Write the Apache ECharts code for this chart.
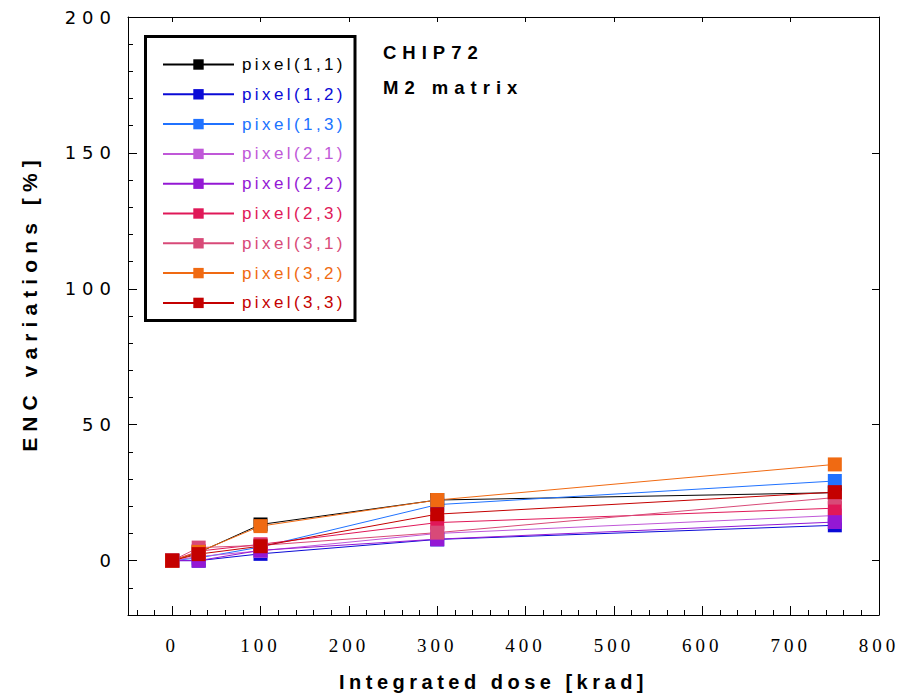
<!DOCTYPE html>
<html>
<head>
<meta charset="utf-8">
<script src="https://cdn.jsdelivr.net/npm/echarts@6/dist/echarts.min.js"></script>
<style>
  html, body { margin: 0; padding: 0; background: #fff; }
  #chart { width: 910px; height: 697px; }
  text[style*="LGX"] { letter-spacing: 3.4px; }
  text[style*="YLB"] { letter-spacing: 6px; }
  text[style*="XLB"] { letter-spacing: 4px; }
  text[style*="YNM"] { letter-spacing: 6.1px; }
  text[style*="XNM"] { letter-spacing: 4.5px; }
  text[style*="ANN"] { letter-spacing: 6px; }
</style>
</head>
<body>
<div id="chart"></div>
<script>
// ---- data ----
const doses = [0, 30, 100, 300, 750];
const seriesNames = ['pixel(1,1)', 'pixel(1,2)', 'pixel(1,3)', 'pixel(2,1)', 'pixel(2,2)',
                     'pixel(2,3)', 'pixel(3,1)', 'pixel(3,2)', 'pixel(3,3)'];
const p11 = [0, 3.0, 13.3, 22.3, 25.0];
const p12 = [0, 0.0, 2.5, 7.8, 13.0];
const p13 = [0, 1.0, 5.0, 20.6, 29.3];
const p21 = [0, 1.5, 3.6, 10.0, 16.6];
const p22 = [0, 0.0, 3.8, 7.9, 14.2];
const p23 = [0, 3.5, 6.0, 14.0, 19.3];
const p31 = [0, 4.8, 5.6, 10.3, 23.2];
const p32 = [0, 3.2, 12.7, 22.3, 35.4];
const p33 = [0, 2.4, 5.3, 17.1, 25.2];
const seriesValues = [p11, p12, p13, p21, p22, p23, p31, p32, p33];
const xMajorTicks = [0, 100, 200, 300, 400, 500, 600, 700, 800];
const xMinorTicks = [-40, -20, 0, 20, 40, 60, 80, 100, 120, 140, 160, 180, 200, 220, 240, 260, 280, 300,
                     320, 340, 360, 380, 400, 420, 440, 460, 480, 500, 520, 540, 560, 580, 600, 620, 640,
                     660, 680, 700, 720, 740, 760, 780, 800];
const yMajorTicks = [0, 50, 100, 150, 200];
const yMinorTicks = [-20, -10, 0, 10, 20, 30, 40, 50, 60, 70, 80, 90, 100, 110, 120, 130, 140, 150,
                     160, 170, 180, 190, 200];
const xTitle = 'Integrated dose [krad]';
const yTitle = 'ENC variations [%]';
const annotation1 = 'CHIP72';
const annotation2 = 'M2 matrix';

// ---- styles ----
const colors = ['#000000', '#0a0ad6', '#2072ff', '#c058d8', '#9418d4',
                '#e01858', '#d84a78', '#f06a12', '#c40000'];

const chart = echarts.init(document.getElementById('chart'), null, { renderer: 'svg' });

const axisLineStyle = { show: true, onZero: false, lineStyle: { color: '#000', width: 1 } };
const noLine = { show: false, onZero: false };

const series = seriesNames.map((name, i) => ({
  name: name,
  type: 'line',
  xAxisIndex: 0,
  yAxisIndex: 0,
  data: doses.map((d, j) => [d, seriesValues[i][j]]),
  symbol: 'rect',
  symbolSize: 14,
  showSymbol: true,
  lineStyle: { color: colors[i], width: 1 },
  itemStyle: { color: colors[i], borderWidth: 0 },
  emphasis: { disabled: true },
  animation: false
}));

const option = {
  animation: false,
  grid: { left: 128, right: 31, top: 17, bottom: 78, containLabel: false },
  xAxis: [
    {
      type: 'value', position: 'bottom', min: -50, max: 800,
      axisLine: axisLineStyle,
      axisTick: { show: true, inside: true, length: 9, customValues: xMajorTicks, lineStyle: { color: '#000' } },
      axisLabel: { show: true, customValues: xMajorTicks, margin: 21, color: '#000',
                   fontSize: 19, fontFamily: 'Liberation Sans Narrow, XLB' },
      splitLine: { show: false },
      name: xTitle, nameLocation: 'middle', nameGap: 57,
      nameTextStyle: { fontSize: 20, fontWeight: 'bold', color: '#000', fontFamily: 'Liberation Sans, XNM',
                       padding: [0, 20, 0, 0] }
    },
    {
      type: 'value', position: 'bottom', min: -50, max: 800,
      axisLine: noLine,
      axisTick: { show: true, inside: true, length: 5, customValues: xMinorTicks, lineStyle: { color: '#000' } },
      axisLabel: { show: false },
      splitLine: { show: false }
    },
    {
      type: 'value', position: 'top', min: -50, max: 800,
      axisLine: axisLineStyle,
      axisTick: { show: true, inside: true, length: 5, customValues: [0, 100, 200, 300, 400, 500, 600, 700], lineStyle: { color: '#000' } },
      axisLabel: { show: false },
      splitLine: { show: false }
    }
  ],
  yAxis: [
    {
      type: 'value', position: 'left', min: -20, max: 200,
      axisLine: axisLineStyle,
      axisTick: { show: true, inside: true, length: 9, customValues: yMajorTicks, lineStyle: { color: '#000' } },
      axisLabel: { show: true, customValues: yMajorTicks, margin: 11, color: '#000',
                   fontSize: 18, fontFamily: 'DejaVu Sans, YLB' },
      splitLine: { show: false },
      name: yTitle, nameLocation: 'middle', nameGap: 88, nameRotate: 90,
      nameTextStyle: { fontSize: 21, fontWeight: 'bold', color: '#000', fontFamily: 'Liberation Sans, YNM',
                       padding: [0, 0, 0, 26] }
    },
    {
      type: 'value', position: 'left', min: -20, max: 200,
      axisLine: noLine,
      axisTick: { show: true, inside: true, length: 5, customValues: yMinorTicks, lineStyle: { color: '#000' } },
      axisLabel: { show: false },
      splitLine: { show: false }
    },
    {
      type: 'value', position: 'right', min: -20, max: 200,
      axisLine: axisLineStyle,
      axisTick: { show: true, inside: true, length: 7, customValues: [0, 50, 100, 150], lineStyle: { color: '#000' } },
      axisLabel: { show: false },
      splitLine: { show: false }
    }
  ],
  legend: {
    orient: 'vertical',
    left: 162, top: 56,
    itemWidth: 71, itemHeight: 13, itemGap: 12.8,
    selectedMode: false,
    padding: 0,
    textStyle: { fontSize: 17, fontFamily: 'Liberation Sans, LGX', lineHeight: 17, padding: [0, 0, 0, 3] },
    data: seriesNames.map((n, i) => ({ name: n, textStyle: { color: colors[i] } }))
  },
  graphic: [
    {
      type: 'rect', z: 100,
      shape: { x: 145.5, y: 36.5, width: 209.5, height: 284 },
      style: { fill: null, stroke: '#000', lineWidth: 3 }
    },
    {
      type: 'text', left: 383, top: 42.5, z: 100,
      style: { text: annotation1, fill: '#000', fontSize: 18.5, fontWeight: 'bold', fontFamily: 'Liberation Sans, ANN' }
    },
    {
      type: 'text', left: 383, top: 77.5, z: 100,
      style: { text: annotation2, fill: '#000', fontSize: 18.5, fontWeight: 'bold', fontFamily: 'Liberation Sans, ANN' }
    }
  ],
  series: series
};

chart.setOption(option);
</script>
</body>
</html>
